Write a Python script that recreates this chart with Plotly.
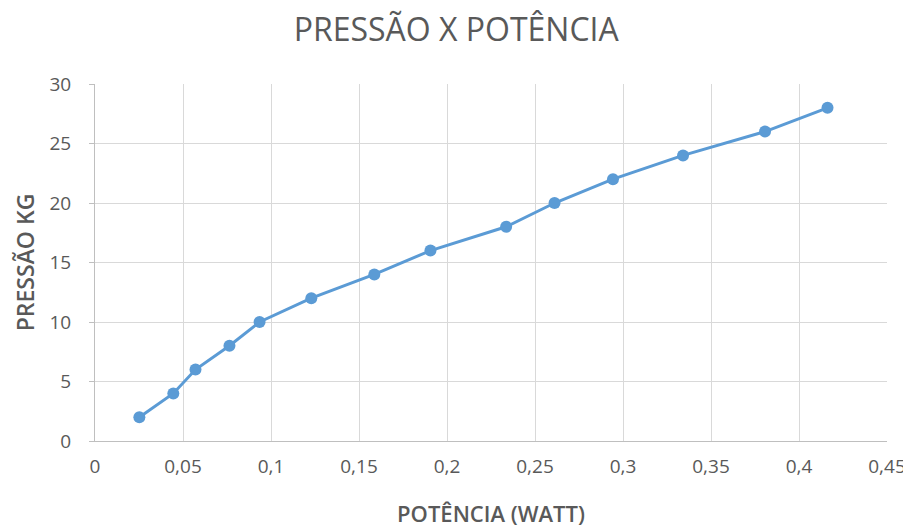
import plotly.graph_objects as go

potencia = [0.0252, 0.0445, 0.0571, 0.0764, 0.0935, 0.1229, 0.1587, 0.1906,
            0.2336, 0.2611, 0.2943, 0.3341, 0.3807, 0.4162]
pressao = [2, 4, 6, 8, 10, 12, 14, 16, 18, 20, 22, 24, 26, 28]

x_tickvals = [0, 0.05, 0.1, 0.15, 0.2, 0.25, 0.3, 0.35, 0.4, 0.45]
x_ticktext = ["0", "0,05", "0,1", "0,15", "0,2", "0,25", "0,3", "0,35", "0,4", "0,45"]
y_tickvals = [0, 5, 10, 15, 20, 25, 30]

fig = go.Figure()
fig.add_trace(go.Scatter(
    x=potencia, y=pressao, mode="lines+markers",
    line=dict(color="#5B9BD5", width=3),
    marker=dict(color="#5B9BD5", size=12),
    showlegend=False,
))

font_fam = "Open Sans, Liberation Sans, sans-serif"
fig.update_layout(
    width=911, height=530,
    paper_bgcolor="white", plot_bgcolor="white",
    margin=dict(l=87, r=32, t=76, b=97),
    title=dict(text="PRESSÃO X POTÊNCIA", x=0.492, xanchor="center",
               y=0.958, yanchor="middle",
               font=dict(family=font_fam, size=32, color="#595959")),
    font=dict(family=font_fam, color="#595959"),
)
fig.update_xaxes(
    range=[0, 0.45], tickvals=x_tickvals, ticktext=x_ticktext,
    showgrid=True, gridcolor="#D9D9D9", gridwidth=1,
    showline=True, linecolor="#BFBFBF", linewidth=1,
    ticks="", zeroline=False, ticklabelstandoff=8,
    tickfont=dict(size=19, color="#595959"),
    title=dict(text="POTÊNCIA (WATT)", font=dict(size=22, color="#595959", weight=600), standoff=28),
)
fig.update_yaxes(
    range=[0, 30], tickvals=y_tickvals,
    showgrid=True, gridcolor="#D9D9D9", gridwidth=1,
    showline=True, linecolor="#BFBFBF", linewidth=1,
    ticks="outside", ticklen=5, tickcolor="#BFBFBF",
    zeroline=False, ticklabelstandoff=14,
    tickfont=dict(size=19, color="#595959"),
    title=dict(text="PRESSÃO KG", font=dict(size=23, color="#595959", weight=600), standoff=8),
)

fig.write_html("out.html")
